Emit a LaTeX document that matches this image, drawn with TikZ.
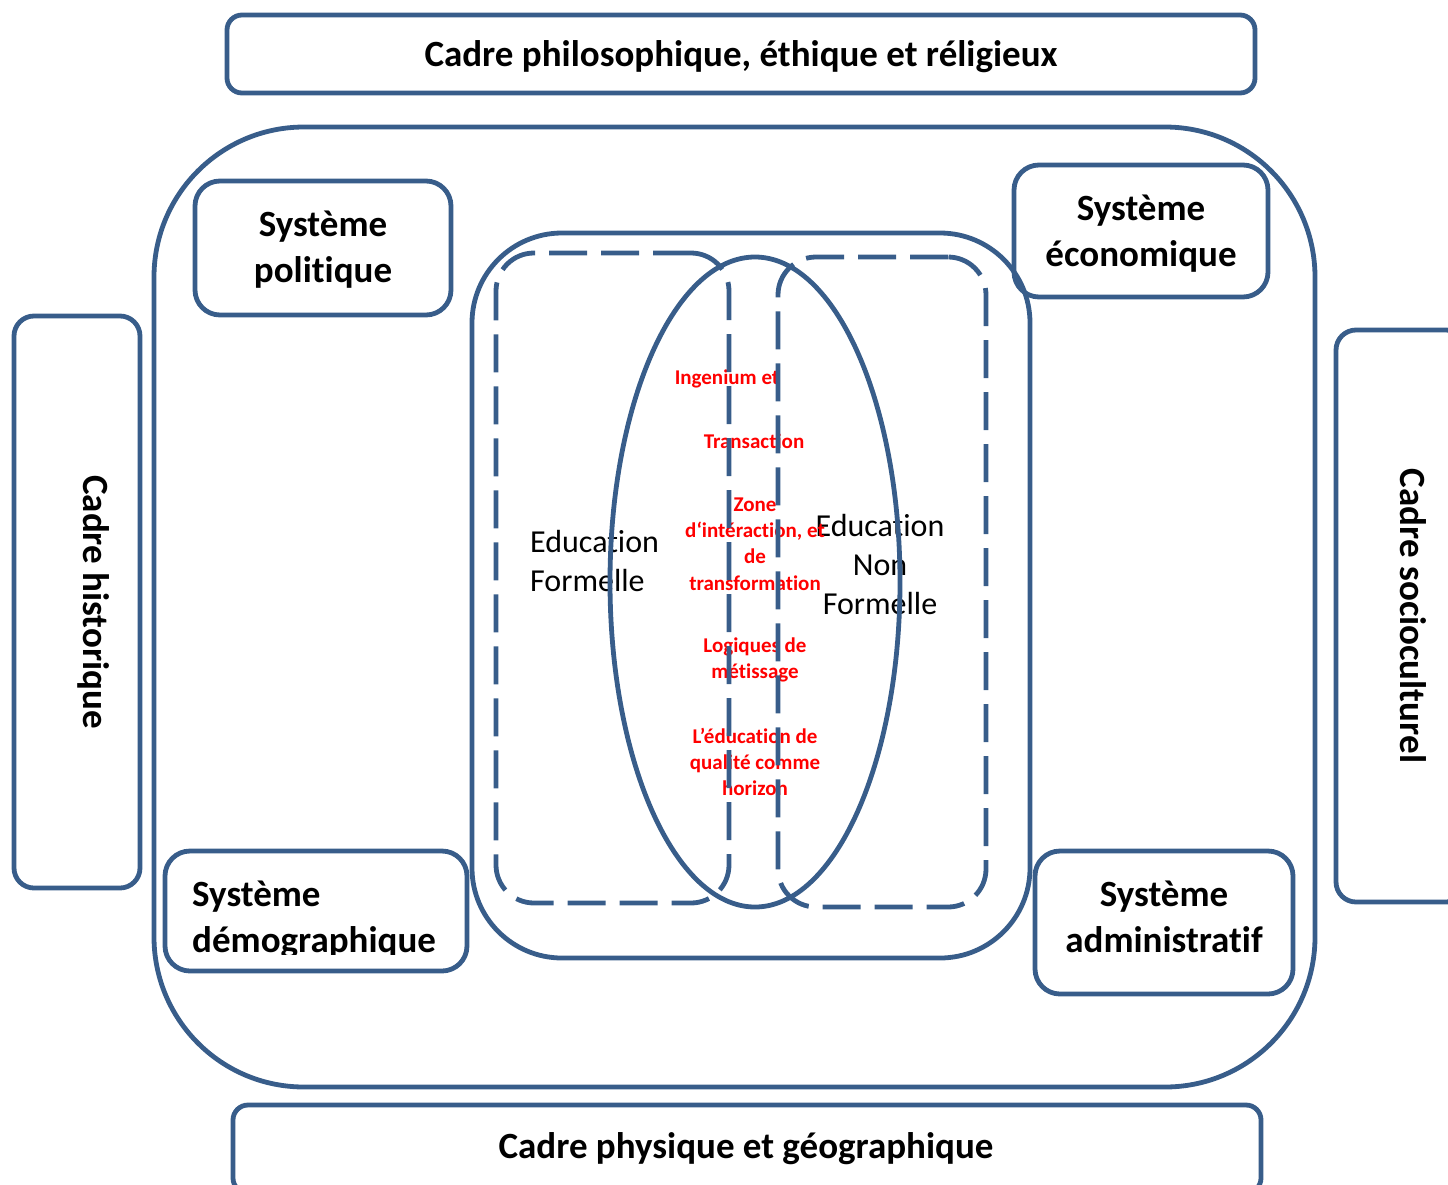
\documentclass[tikz,border=0pt]{standalone}
\usepackage{fontspec}
\setmainfont{Carlito}[Ligatures=NoCommon]
\usetikzlibrary{shapes.geometric}
\definecolor{frame}{HTML}{385D8A}
\definecolor{redtxt}{HTML}{FF0000}
\tikzset{
  frm/.style={draw=frame, line width=4.8pt},
  dashfrm/.style={frm, dash pattern=on 38pt off 14pt, rounded corners=38pt, inner sep=0pt},
  bigfont/.style={font=\fontsize{37}{46}\selectfont\bfseries},
  sysbox/.style={frm, fill=white, rounded corners=25pt, inner sep=0pt, align=center, bigfont},
  cadrebox/.style={frm, fill=white, rounded corners=18pt, inner sep=0pt, align=center, bigfont},
  lbl/.style={bigfont, inner sep=0pt, align=center},
  redlbl/.style={text=redtxt, align=center, inner sep=0pt, font=\fontsize{21}{26.3}\selectfont\bfseries},
  edulbl/.style={inner sep=0pt, font=\fontsize{32}{39}\selectfont},
}
\begin{document}
\begin{tikzpicture}[x=1pt,y=-1pt]
\useasboundingbox (0,0) rectangle (1448,1184);
\clip (0,0) rectangle (1448,1184);
% outer frame
\node[frm, rounded corners=150pt, minimum width=1161pt, minimum height=960pt, inner sep=0pt] (outer) at (734.5,607) {};
% cadres
\node[cadrebox, minimum width=1028pt, minimum height=78pt, rounded corners=15pt] (philo) at (741,54) {};
\node[lbl] (philolbl) at (741,57) {Cadre philosophique, éthique et réligieux};
\node[cadrebox, minimum width=1028pt, minimum height=88pt, rounded corners=15pt] (phys) at (747,1149) {};
\node[lbl] (physlbl) at (746,1149) {Cadre physique et géographique};
\node[cadrebox, rotate=-90, minimum width=572pt, minimum height=126pt, rounded corners=20pt] (hist) at (77,602) {};
\node[lbl, rotate=-90] (histlbl) at (94,602) {Cadre historique};
\node[cadrebox, rotate=-90, minimum width=572pt, minimum height=130pt, rounded corners=20pt] (socio) at (1401,616) {};
\node[lbl, rotate=-90] (sociolbl) at (1413,616) {Cadre socioculturel};
% systems
\node[sysbox, minimum width=256pt, minimum height=134pt] (pol) at (323,248) {};
\node[lbl] (pollbl) at (323,250) {Système\\politique};
\node[sysbox, minimum width=254pt, minimum height=132pt] (eco) at (1141,231) {};
\node[lbl] (ecolbl) at (1141,234) {Système\\économique};
\node[sysbox, minimum width=258pt, minimum height=143pt] (adm) at (1164,922.5) {};
\node[lbl] (admlbl) at (1164,917) {Système\\administratif};
\node[sysbox, minimum width=302pt, minimum height=120pt] (demo) at (316,911) {};
\begin{scope}
\clip (170,856) rectangle (462,954);
\node[bigfont, align=left, anchor=west, inner sep=0pt] (demolbl) at (192,920) {Système\\démographique};
\end{scope}
% texts in the education zone
\node[edulbl, align=left, anchor=west] (formelle) at (530,561) {Education\\Formelle};
\node[edulbl, align=center] (nonformelle) at (880,564) {Education\\Non\\Formelle};
\node[redlbl] (ingenium) at (727,379) {Ingenium et};
\node[redlbl] (transac) at (754,441) {Transaction};
\node[redlbl] (zone) at (755,544) {Zone\\d‘intéraction, et\\de\\transformation};
\node[redlbl] (logiques) at (755,660) {Logiques de\\métissage};
\node[redlbl] (horizon) at (755,762) {L’éducation de\\qualité comme\\horizon};
% inner frames
\node[frm, rounded corners=90pt, minimum width=558pt, minimum height=725pt, inner sep=0pt] (inner) at (751,595.5) {};
\node[dashfrm, minimum width=233pt, minimum height=650pt] (formal) at (612.5,578) {};
\node[dashfrm, minimum width=208pt, minimum height=650pt] (nonformal) at (882,582) {};
\node[frm, ellipse, minimum width=290pt, minimum height=650pt, inner sep=0pt] (zoneell) at (755,582) {};
\end{tikzpicture}
\end{document}
